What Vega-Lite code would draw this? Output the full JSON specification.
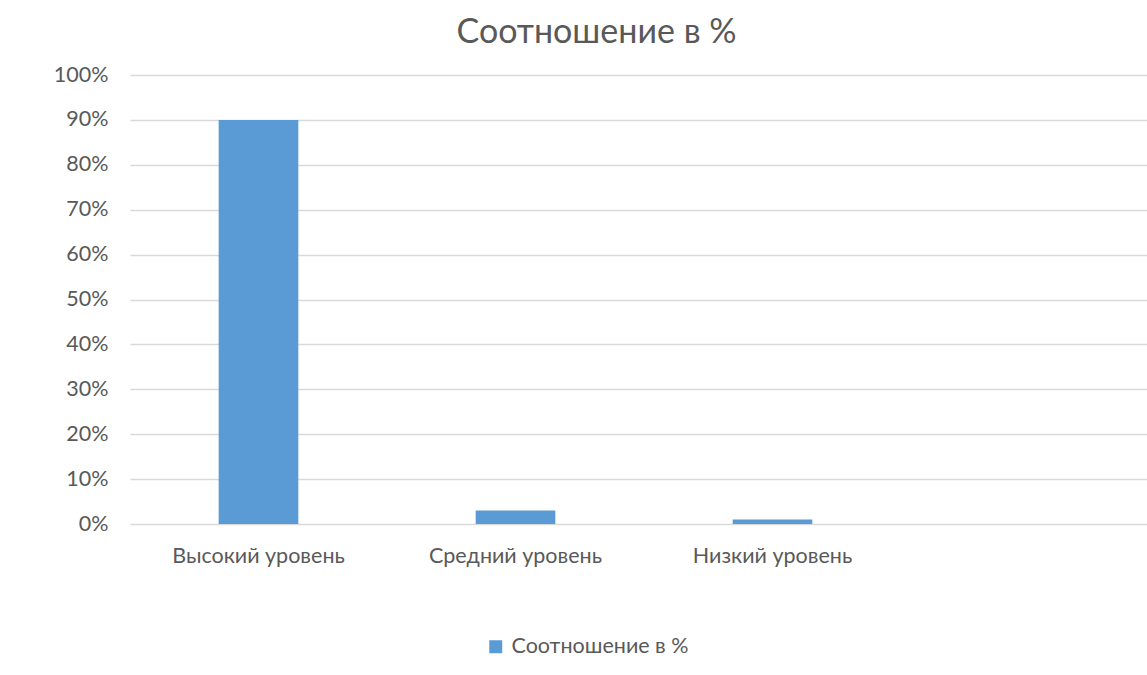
{
  "$schema": "https://vega.github.io/schema/vega-lite/v6.json",
  "autosize": {"type": "none"},
  "padding": {"left": 130, "top": 75, "right": 0, "bottom": 151},
  "width": 1017,
  "height": 449,
  "background": "white",
  "title": {"text": "Соотношение в %", "fontSize": 34, "font": "Lato", "fontWeight": "normal", "color": "#595959", "anchor": "middle", "dx": -42, "offset": 14},
  "data": {"values": [
    {"level": "Высокий уровень", "value": 0.90, "series": "Соотношение в %"},
    {"level": "Средний уровень", "value": 0.03, "series": "Соотношение в %"},
    {"level": "Низкий уровень", "value": 0.01, "series": "Соотношение в %"}
  ]},
  "mark": {"type": "bar", "width": {"band": 0.31}},
  "encoding": {
    "x": {"field": "level", "type": "nominal", "sort": null,
      "scale": {"domain": ["Высокий уровень", "Средний уровень", "Низкий уровень", " "], "range": [0, 1028], "paddingInner": 0, "paddingOuter": 0},
      "axis": {"title": null, "labelAngle": 0, "ticks": false, "domain": false, "labelFont": "Lato", "labelFontSize": 21.5, "labelColor": "#595959", "labelPadding": 21}},
    "y": {"field": "value", "type": "quantitative",
      "scale": {"domain": [0, 1]},
      "axis": {"title": null, "format": ".0%", "values": [0,0.1,0.2,0.3,0.4,0.5,0.6,0.7,0.8,0.9,1], "labelOverlap": false, "ticks": false, "domain": false, "labelFont": "Lato", "labelFontSize": 21.5, "labelColor": "#595959", "labelPadding": 22, "gridColor": "#d9d9d9", "gridWidth": 1.3}},
    "color": {"field": "series", "type": "nominal", "scale": {"range": ["#5b9bd5"]},
      "legend": {"title": null, "orient": "none", "legendX": 355, "legendY": 561, "symbolType": "square", "symbolSize": 169, "symbolStrokeWidth": 0, "labelFont": "Lato", "labelFontSize": 21.5, "labelColor": "#595959", "labelOffset": 5, "labelLimit": 400}}
  },
  "config": {"view": {"stroke": null}}
}
